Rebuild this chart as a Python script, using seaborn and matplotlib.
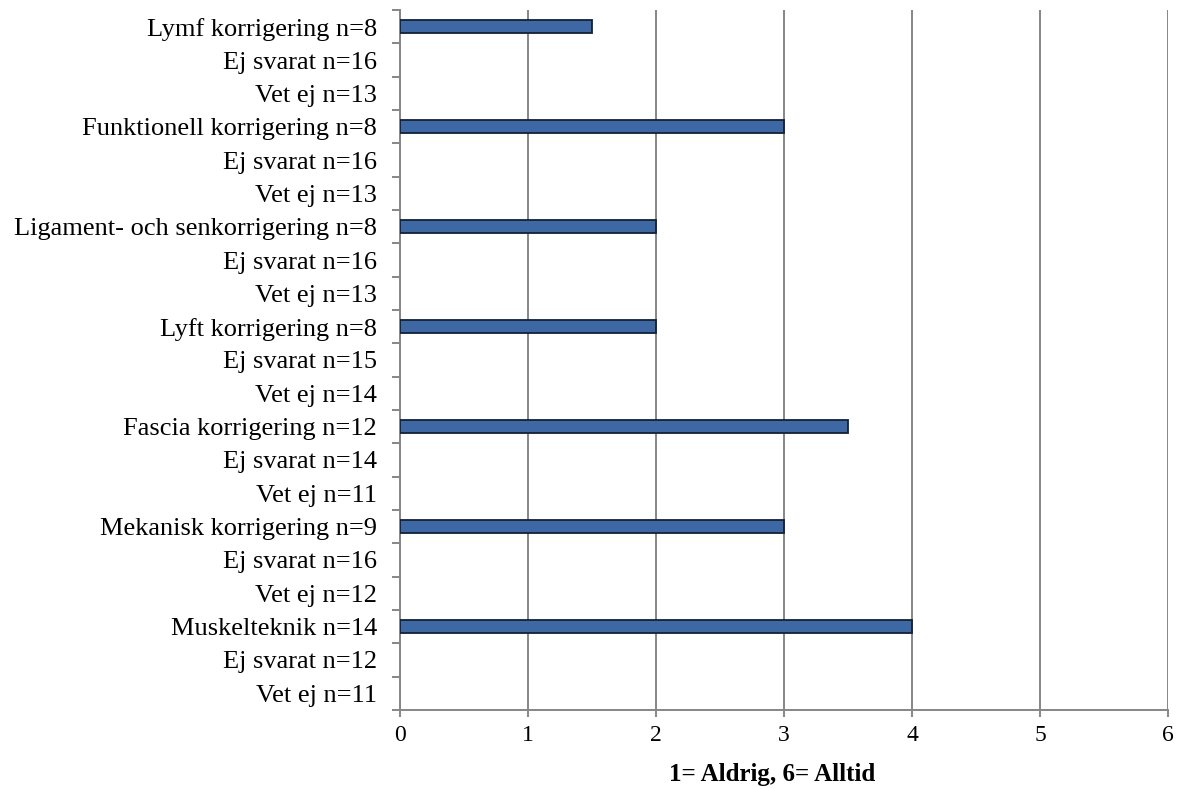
import matplotlib
matplotlib.use("Agg")
import matplotlib.pyplot as plt
import seaborn as sns
import numpy as np
import pandas as pd

labels = [
    "Lymf korrigering n=8", "Ej svarat n=16", "Vet ej n=13",
    "Funktionell korrigering n=8", "Ej svarat n=16", "Vet ej n=13",
    "Ligament- och senkorrigering n=8", "Ej svarat n=16", "Vet ej n=13",
    "Lyft korrigering n=8", "Ej svarat n=15", "Vet ej n=14",
    "Fascia korrigering n=12", "Ej svarat n=14", "Vet ej n=11",
    "Mekanisk korrigering n=9", "Ej svarat n=16", "Vet ej n=12",
    "Muskelteknik n=14", "Ej svarat n=12", "Vet ej n=11",
]
values = [
    1.5, np.nan, np.nan,
    3.0, np.nan, np.nan,
    2.0, np.nan, np.nan,
    2.0, np.nan, np.nan,
    3.5, np.nan, np.nan,
    3.0, np.nan, np.nan,
    4.0, np.nan, np.nan,
]
x_ticks = [0, 1, 2, 3, 4, 5, 6]
x_label = "1= Aldrig, 6= Alltid"

sns.set_theme(style="white")
plt.rcParams['font.family'] = ['Liberation Serif', 'DejaVu Serif']
plt.rcParams['text.color'] = 'black'
plt.rcParams['xtick.labelcolor'] = 'black'
plt.rcParams['ytick.labelcolor'] = 'black'
plt.rcParams['axes.labelcolor'] = 'black'

df = pd.DataFrame({"pos": list(range(len(labels))), "value": values})

fig = plt.figure(figsize=(11.8, 7.89), dpi=100)
ax = fig.add_axes([400/1180, 79/789, 768/1180, 700/789])

sns.barplot(data=df, x="value", y="pos", orient="h", order=list(range(len(labels))),
            color="#3D68A3", saturation=1, width=0.38, edgecolor="#132036",
            linewidth=1.3, ax=ax, zorder=3)

ax.set_xlim(0, 6)
ax.set_ylim(len(labels) - 0.5, -0.5)
ax.set_xticks(x_ticks)
ax.set_xticklabels([str(t) for t in x_ticks], fontsize=17)
ax.xaxis.grid(True, color="#868686", linewidth=1.4, zorder=0)
ax.yaxis.grid(False)
ax.set_axisbelow(True)

# category labels at centers, tick marks at boundaries
ax.set_yticks(np.arange(-0.5, len(labels), 1.0))
ax.set_yticklabels([])
ax.set_yticks(np.arange(len(labels)), minor=True)
ax.set_yticklabels(labels, minor=True, fontsize=19)
ax.tick_params(axis="y", which="major", length=6, width=1.4, color="#868686", direction="out", left=True)
ax.tick_params(axis="y", which="minor", length=0, pad=16.5, left=True)
ax.tick_params(axis="x", length=5, width=1.4, color="#868686", direction="out", bottom=True, pad=6)

for s in ["top", "right"]:
    ax.spines[s].set_visible(False)
for s in ["left", "bottom"]:
    ax.spines[s].set_color("#868686")
    ax.spines[s].set_linewidth(1.4)

ax.set_ylabel("")
ax.set_xlabel(x_label, fontsize=18, fontweight="bold", labelpad=12, x=(772 - 400) / 768)

fig.savefig("out.png", dpi=100)
